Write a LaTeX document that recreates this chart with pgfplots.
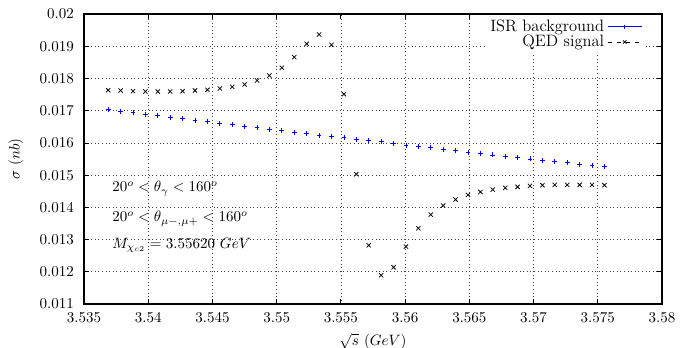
\documentclass[border=0pt]{standalone}
\usepackage{pgfplots}
\pgfplotsset{compat=1.18}
\usepackage{pgfplotstable}

\pgfplotstableread{
x y
3.53688 0.017039
3.537846 0.016988
3.538812 0.016936
3.539778 0.016894
3.540744 0.016843
3.54171 0.016801
3.542676 0.016749
3.543642 0.016698
3.544608 0.016656
3.545574 0.016605
3.54654 0.016563
3.547506 0.016511
3.548472 0.016470
3.549438 0.016429
3.550404 0.016377
3.55137 0.016335
3.552336 0.016284
3.553302 0.016242
3.554268 0.016201
3.555234 0.016159
3.5562 0.016118
3.557166 0.016077
3.558132 0.016035
3.559098 0.015983
3.560064 0.015932
3.56103 0.015890
3.561996 0.015849
3.562962 0.015797
3.563928 0.015756
3.564894 0.015714
3.56586 0.015663
3.566826 0.015631
3.567792 0.015590
3.568758 0.015549
3.569724 0.015507
3.57069 0.015466
3.571656 0.015424
3.572622 0.015383
3.573588 0.015342
3.574554 0.015300
3.57552 0.015259
}\isr

\pgfplotstableread{
x y
3.53688 0.017640
3.537846 0.017630
3.538812 0.017609
3.539778 0.017598
3.540744 0.017598
3.54171 0.017598
3.542676 0.017609
3.543642 0.017630
3.544608 0.017650
3.545574 0.017692
3.54654 0.017743
3.547506 0.017816
3.548472 0.017940
3.549438 0.018095
3.550404 0.018333
3.55137 0.018665
3.552336 0.019079
3.553302 0.019369
3.554268 0.019048
3.555234 0.017516
3.5562 0.015031
3.557166 0.012826
3.558132 0.011894
3.559098 0.012143
3.560064 0.012785
3.56103 0.013354
3.561996 0.013779
3.562962 0.014058
3.563928 0.014244
3.564894 0.014389
3.56586 0.014482
3.566826 0.014554
3.567792 0.014607
3.568758 0.014638
3.569724 0.014669
3.57069 0.014690
3.571656 0.014700
3.572622 0.014700
3.573588 0.014700
3.574554 0.014700
3.57552 0.014690
}\qed

\begin{document}
\begin{tikzpicture}
\useasboundingbox (-56pt,-28.7pt) rectangle (403.3pt,202.7pt);
\begin{axis}[
  scale only axis,
  width=385.3pt, height=193.3pt,
  xmin=3.535, xmax=3.58, ymin=0.011, ymax=0.02,
  xtick={3.535,3.54,3.545,3.55,3.555,3.56,3.565,3.57,3.575,3.58},
  ytick={0.011,0.012,0.013,0.014,0.015,0.016,0.017,0.018,0.019,0.02},
  scaled x ticks=false, scaled y ticks=false,
  xticklabel style={/pgf/number format/fixed, /pgf/number format/precision=3, yshift=-2pt},
  yticklabel style={/pgf/number format/fixed, /pgf/number format/precision=3, xshift=-3.3pt},
  grid=major,
  grid style={dotted, black!75, line width=0.5pt},
  axis line style={line width=1.1pt},
  tick style={black, line width=0.6pt},
  tick align=inside,
  major tick length=3.3pt,
  xlabel={$\sqrt{s}\ (GeV)$},
  ylabel={$\sigma\ (nb)$},
  ylabel shift=4pt,
  xlabel shift=0.5pt,
  legend style={at={(rel axis cs:1,1)}, anchor=north east, xshift=-12pt, yshift=-0.5pt,
    draw=none, fill=white, row sep=-3pt, cells={anchor=east}, inner sep=1pt,
    font=\fontsize{11}{12}\selectfont},
  legend plot pos=right,
  legend image code/.code={\draw[mark repeat=2,mark phase=2] plot coordinates {(0cm,0cm) (0.4cm,0cm) (0.8cm,0cm)};},
]
\addlegendimage{blue, solid, mark=+, mark size=1.4pt, line width=0.6pt}
\addlegendentry{ISR background}
\addlegendimage{black, dashed, mark=x, mark size=1.6pt, mark options={solid}, line width=0.5pt}
\addlegendentry{QED signal}
\addplot[forget plot, only marks, blue, mark=+, mark size=1.6pt, line width=0.5pt] table[x=x,y=y] {\isr};
\addplot[forget plot, only marks, black, mark=x, mark size=2pt, line width=0.5pt] table[x=x,y=y] {\qed};
\node[anchor=base west, inner sep=0pt] at (axis cs:3.53718,0.014481) {$20^o < \theta_\gamma < 160^o$};
\node[anchor=base west, inner sep=0pt] at (axis cs:3.53718,0.013550) {$20^o < \theta_{\mu-,\mu+} < 160^o$};
\node[anchor=base west, inner sep=0pt] at (axis cs:3.53718,0.012733) {$M_{\chi_{c2}} = 3.55620\ GeV$};
\end{axis}
\end{tikzpicture}
\end{document}
